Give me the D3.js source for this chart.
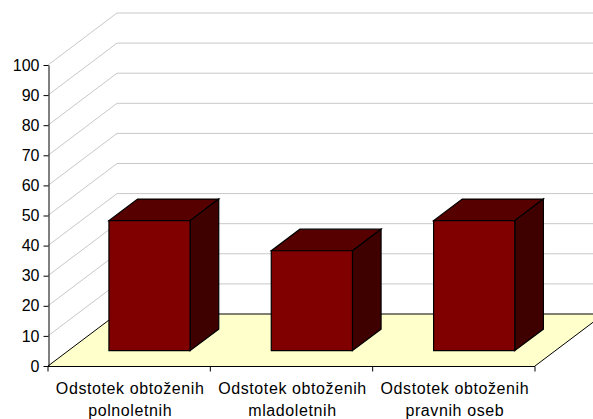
<!DOCTYPE html>
<html><head><meta charset="utf-8">
<script src="https://cdn.jsdelivr.net/npm/d3@7"></script>
<style>html,body{margin:0;background:#fff}svg{display:block}text{font-family:"Liberation Sans",Arial,sans-serif;fill:#000}</style>
</head><body><svg id="c" width="593" height="419"></svg>
<script>
const categories=["Odstotek obtoženih polnoletnih","Odstotek obtoženih mladoletnih","Odstotek obtoženih pravnih oseb"];
const line1=["Odstotek obtoženih","Odstotek obtoženih","Odstotek obtoženih"];
const line2=["polnoletnih","mladoletnih","pravnih oseb"];
const values=[43.2,33.2,43.2];
const yTicks=[0,10,20,30,40,50,60,70,80,90,100];

const svg=d3.select("#c");
const x=d3.scaleBand().domain(categories).range([48,535]);
const y=d3.scaleLinear().domain([0,100]).range([366,65]);
const depthX=69,depthY=-52;
const startF=0.295,endF=0.71;
const barW=x.bandwidth()/2;
const off=f=>[depthX*f,depthY*f];
const pts=a=>a.map(p=>p.join(",")).join(" ");

svg.append("polygon")
  .attr("points",pts([[x.range()[0],y(0)],[x.range()[1],y(0)],[x.range()[1]+depthX,y(0)+depthY],[x.range()[0]+depthX,y(0)+depthY]]))
  .attr("fill","#ffffcc").attr("stroke","none");

const grid=svg.append("g");
yTicks.filter(t=>t>0).forEach(t=>{
  grid.append("polyline")
    .attr("points",pts([[x.range()[0],y(t)],[x.range()[0]+depthX,y(t)+depthY],[593,y(t)+depthY]]))
    .attr("fill","none").attr("stroke","#c8c8c8").attr("stroke-width",1);
});
svg.append("polyline")
  .attr("points",pts([[x.range()[0],y(0)],[x.range()[0]+depthX,y(0)+depthY],[593,y(0)+depthY]]))
  .attr("fill","none").attr("stroke","#000");
svg.append("line")
  .attr("x1",x.range()[1]).attr("y1",y(0)).attr("x2",x.range()[1]+depthX).attr("y2",y(0)+depthY)
  .attr("stroke","#000");

const bars=svg.append("g").selectAll("g").data(values).join("g");
const [ox,oy]=off(startF),[dx,dy]=off(endF-startF);
bars.each(function(v,i){
  const g=d3.select(this);
  const l=x(categories[i])+barW/2+ox, r=l+barW, b=y(0)+oy, t=y(v)+oy;
  g.append("polygon").attr("points",pts([[l,t],[r,t],[r+dx,t+dy],[l+dx,t+dy]])).attr("fill","#560000");
  g.append("polygon").attr("points",pts([[r,t],[r+dx,t+dy],[r+dx,b+dy],[r,b]])).attr("fill","#3f0000");
  g.append("polygon").attr("points",pts([[l,t],[r,t],[r,b],[l,b]])).attr("fill","#800000");
  g.selectAll("polygon").attr("stroke","#000").attr("stroke-width",1.2).attr("stroke-linejoin","miter");
});

const yAxis=svg.append("g").attr("transform",`translate(${x.range()[0]+.5},0)`)
  .call(d3.axisLeft(y).tickValues(yTicks).tickSize(5).tickSizeOuter(0).tickPadding(4));
yAxis.selectAll("text").attr("font-size",16).style("font-family",'"Liberation Sans"');
const xAxis=svg.append("g").attr("transform",`translate(0,${y(0)+.5})`);
xAxis.append("line").attr("x1",x.range()[0]).attr("x2",x.range()[1]).attr("stroke","#000");
const edges=[...categories.map(c=>x(c)),x.range()[1]];
xAxis.selectAll("line.t").data(edges).join("line").attr("class","t")
  .attr("x1",d=>d).attr("x2",d=>d).attr("y1",0).attr("y2",5).attr("stroke","#000");
const lab=xAxis.selectAll("g.l").data(categories).join("g").attr("class","l")
  .attr("transform",c=>`translate(${x(c)+x.bandwidth()/2+1},0)`);
lab.append("text").attr("y",27).attr("text-anchor","middle").attr("font-size",16).attr("letter-spacing",.6).text((c,i)=>line1[i]);
lab.append("text").attr("y",49).attr("text-anchor","middle").attr("font-size",16).attr("letter-spacing",.6).text((c,i)=>line2[i]);
</script></body></html>
